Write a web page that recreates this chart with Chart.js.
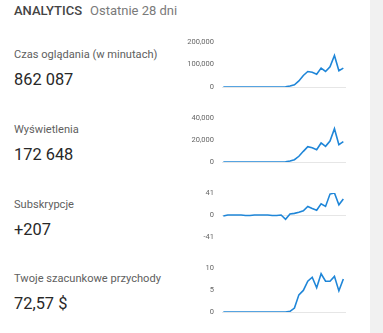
<!DOCTYPE html>
<html>
<head>
<meta charset="utf-8">
<script src="https://cdn.jsdelivr.net/npm/chart.js@4"></script>
<style>
  body { margin: 0; width: 383px; height: 333px; background: #fff; position: relative; overflow: hidden; font-family: Roboto, sans-serif; }
  .side { position: absolute; left: 370px; top: 0; width: 13px; height: 333px; background: #f1f1f1; }
  .title { position: absolute; left: 14px; top: 4px; font-size: 13px; line-height: 13px; white-space: nowrap; }
  .title b { font-weight: 500; color: #444; }
  .title span { color: #7a7a7a; margin-left: 8px; }
  .label { position: absolute; left: 14px; font-size: 11.1px; line-height: 12px; color: #606060; white-space: nowrap; }
  .value { position: absolute; left: 14px; font-size: 16.4px; line-height: 17px; color: #282828; white-space: nowrap; }
  canvas { position: absolute; left: 180px; }
</style>
</head>
<body>
<div class="side"></div>
<div class="title"><b>ANALYTICS</b><span>Ostatnie 28 dni</span></div>
<div id="cards"></div>

<script>
// last 28 days
const days = [1, 2, 3, 4, 5, 6, 7, 8, 9, 10, 11, 12, 13, 14, 15, 16, 17, 18, 19, 20, 21, 22, 23, 24, 25, 26, 27, 28];

const watchMinutes = [0, 0, 0, 0, 0, 0, 0, 0, 0, 0, 0, 0, 0, 0,
  500, 4500, 10000, 27000, 51000, 69000, 66000, 57000, 84000, 69000, 90000, 140000, 72000, 84000];
const views = [0, 0, 0, 0, 0, 0, 0, 0, 0, 0, 0, 0, 0, 0,
  100, 900, 2100, 5200, 9700, 13900, 13000, 11200, 17300, 14200, 19100, 30300, 15800, 18500];
const subscribers = [-2, 0, 0, 0, 0, -1, -1, 0, 0, 0, 0, -1, -1, 0,
  -8, 2, 3, 5, 8, 16, 12, 9, 21, 16, 39, 41, 19, 30];
const revenue = [0, 0, 0, 0, 0, 0, 0, 0, 0, 0, 0, 0, 0, 0, 0,
  0.15, 0.9, 3.9, 4.9, 7.0, 7.9, 5.5, 8.7, 7.0, 7.0, 8.1, 4.8, 7.5];

const cardTitles = ['Czas oglądania (w minutach)', 'Wyświetlenia', 'Subskrypcje', 'Twoje szacunkowe przychody'];
const cardTotals = ['862 087', '172 648', '+207', '72,57 $'];
const axisMin = [0, 0, -41, 0];
const axisMax = [200000, 40000, 41, 10];
const axisStep = [100000, 20000, 41, 5];
const series = [watchMinutes, views, subscribers, revenue];

const lineColor = '#1f86d8';
const edge = 5; // room above/below the plot for the outer tick labels

function createSparkline(canvas, values, i) {
  return new Chart(canvas, {
    type: 'line',
    data: {
      datasets: [{
        data: values.map((v, k) => ({ x: days[k], y: v })),
        borderColor: lineColor,
        borderWidth: 1.6,
        pointRadius: 0,
        pointHoverRadius: 0,
        tension: 0,
        fill: false
      }]
    },
    options: {
      responsive: false,
      animation: false,
      layout: { autoPadding: false, padding: { top: edge, bottom: edge, right: 4, left: 0 } },
      plugins: { legend: { display: false }, tooltip: { enabled: false } },
      scales: {
        x: { type: 'linear', display: false, min: 0.7, max: 28.6 },
        y: {
          min: axisMin[i],
          max: axisMax[i],
          afterFit: (scale) => {
            scale.width = 42;
            scale.paddingTop = 0;
            scale.paddingBottom = 0;
          },
          border: { display: false },
          grid: {
            drawTicks: false,
            color: (c) => (c.tick && c.tick.value === 0 ? '#e6e6e6' : 'rgba(0,0,0,0)')
          },
          ticks: {
            stepSize: axisStep[i],
            padding: 8,
            color: '#666',
            font: { family: 'Roboto', size: 7.5 }
          }
        }
      }
    }
  });
}

const cards = document.getElementById('cards');
// y of the top tick for each sparkline
const topTicks = [42, 118, 193, 268];
const plotHeights = [45, 44, 44, 44];

series.forEach((values, i) => {
  const label = document.createElement('div');
  label.className = 'label';
  label.style.top = (49 + 74.8 * i) + 'px';
  label.textContent = cardTitles[i];
  cards.appendChild(label);

  const total = document.createElement('div');
  total.className = 'value';
  total.style.top = (71 + 74.8 * i) + 'px';
  total.textContent = cardTotals[i];
  cards.appendChild(total);

  const canvas = document.createElement('canvas');
  canvas.width = 170;
  canvas.height = plotHeights[i] + edge * 2;
  canvas.style.top = (topTicks[i] - edge) + 'px';
  cards.appendChild(canvas);
  createSparkline(canvas, values, i);
});
</script>
</body>
</html>
